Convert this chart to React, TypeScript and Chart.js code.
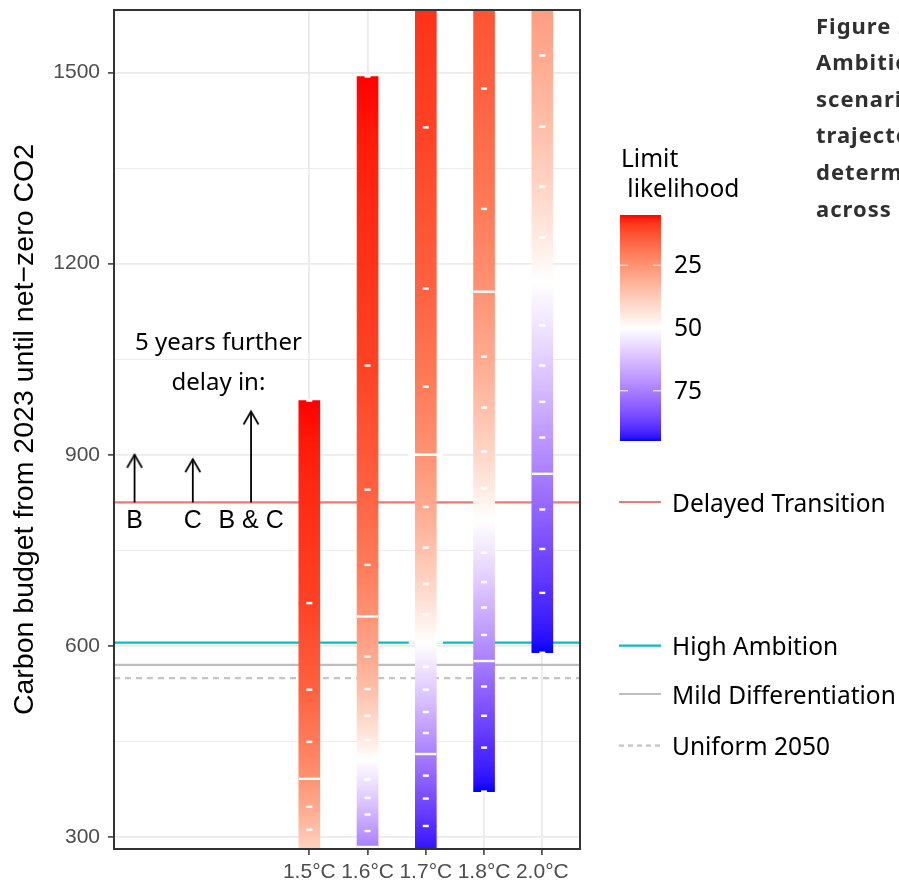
import React, { useEffect, useRef } from 'react';
import { Chart, registerables } from 'chart.js';

Chart.register(...registerables);

// ---------------- data ----------------
const TEMPERATURES = ['1.5°C', '1.6°C', '1.7°C', '1.8°C', '2.0°C'];
const LIKELIHOODS = [5, 10, 15, 20, 25, 30, 35, 40, 45, 50, 55, 60, 65, 70, 75, 80, 85, 90, 95];
// carbon budget (GtCO2) reached at each likelihood level, per temperature limit
const BUDGET_15C = [985, 667, 531, 449, 391, 347, 311, 276];
const BUDGET_16C = [1494, 1040, 845, 727, 646, 583, 532, 490, 452, 421, 390, 361, 335, 309, 284];
const BUDGET_17C = [1880, 1414, 1161, 1007, 900, 818, 754, 697, 649, 605, 567, 531, 496, 463, 430, 396, 360, 317, 264];
const BUDGET_18C = [2250, 1760, 1475, 1286, 1156, 1054, 974, 905, 847, 798, 746, 700, 660, 617, 576, 536, 490, 440, 371];
const BUDGET_20C = [2900, 2400, 2050, 1820, 1660, 1527, 1415, 1321, 1241, 1172, 1103, 1040, 983, 927, 870, 814, 752, 683, 589];
const BUDGETS_BY_TEMPERATURE = [BUDGET_15C, BUDGET_16C, BUDGET_17C, BUDGET_18C, BUDGET_20C];
const QUARTILE_LEVELS = [25, 75];
const MARKER_17C_BUDGETS = [900, 605];

const SCENARIO_NAMES = ['Delayed Transition', 'High Ambition', 'Mild Differentiation', 'Uniform 2050'];
const SCENARIO_BUDGETS = [825, 605, 570, 549];
const SCENARIO_COLORS = ['#F8766D', '#00BFC4', '#BEBEBE', '#C4C4C4'];
const SCENARIO_DASHED = [false, false, false, true];

const DELAY_LABELS = ['B', 'C', 'B & C'];
const DELAY_POSITIONS = [-3, -2, -1];
const DELAY_TOPS = [900, 893, 968];
const DELAY_BASE = 825;
const DELAY_LABEL_BASELINE = 785;
const NOTE_LINES = ['5 years further', 'delay in:'];
const NOTE_POSITION = -1.56;
const NOTE_BASELINES = [1064, 1002];

const Y_MAJOR_TICKS = [300, 600, 900, 1200, 1500];
const Y_MINOR_TICKS = [450, 750, 1050, 1350];
const Y_RANGE = [280.8, 1598.4];
const X_RANGE = [-3.353, 4.647];
const LEGEND_BREAKS = [25, 50, 75];
const CAPTION_LINES = ['Figure 2:', 'Ambition', 'scenarios', 'trajectory', 'determined', 'across the'];

// ---------------- styling helpers ----------------
const TICK_FONT = "'Liberation Sans', Arial, sans-serif";
const TEXT_FONT = "'Noto Sans', sans-serif";
const L_MIN = Math.min(...LIKELIHOODS);
const L_MAX = Math.max(...LIKELIHOODS);

function toLinear(c: number) {
  c /= 255;
  return c <= 0.04045 ? c / 12.92 : Math.pow((c + 0.055) / 1.055, 2.4);
}
function fromLinear(c: number) {
  const v = c <= 0.0031308 ? 12.92 * c : 1.055 * Math.pow(c, 1 / 2.4) - 0.055;
  return Math.round(Math.min(1, Math.max(0, v)) * 255);
}
function rgbToLab(r: number, g: number, b: number) {
  const R = toLinear(r), G = toLinear(g), B = toLinear(b);
  const X = (0.4124 * R + 0.3576 * G + 0.1805 * B) / 0.95047;
  const Y = 0.2126 * R + 0.7152 * G + 0.0722 * B;
  const Z = (0.0193 * R + 0.1192 * G + 0.9505 * B) / 1.08883;
  const f = (t: number) => (t > 0.008856 ? Math.cbrt(t) : 7.787 * t + 16 / 116);
  const fx = f(X), fy = f(Y), fz = f(Z);
  return [116 * fy - 16, 500 * (fx - fy), 200 * (fy - fz)];
}
function labToHex(lab: number[]) {
  const fy = (lab[0] + 16) / 116;
  const fx = fy + lab[1] / 500;
  const fz = fy - lab[2] / 200;
  const inv = (t: number) => (t * t * t > 0.008856 ? t * t * t : (t - 16 / 116) / 7.787);
  const X = inv(fx) * 0.95047, Y = inv(fy), Z = inv(fz) * 1.08883;
  const R = 3.2406 * X - 1.5372 * Y - 0.4986 * Z;
  const G = -0.9689 * X + 1.8758 * Y + 0.0415 * Z;
  const B = 0.0557 * X - 0.204 * Y + 1.057 * Z;
  const h = (v: number) => fromLinear(v).toString(16).padStart(2, '0');
  return '#' + h(R) + h(G) + h(B);
}
const LAB_LOW = rgbToLab(255, 0, 0);
const LAB_MID = rgbToLab(255, 255, 255);
const LAB_HIGH = rgbToLab(0, 0, 255);
function likelihoodColor(L: number) {
  const half = Math.max(50 - L_MIN, L_MAX - 50);
  const t = Math.min(1, Math.max(0, (L - 50) / (2 * half) + 0.5));
  let a = LAB_LOW, b = LAB_MID, s = t / 0.5;
  if (t > 0.5) {
    a = LAB_MID; b = LAB_HIGH; s = (t - 0.5) / 0.5;
  }
  return labToHex([0, 1, 2].map((k) => a[k] + (b[k] - a[k]) * s));
}

function makeArrowHead(): HTMLCanvasElement {
  const s = 40;
  const cv = document.createElement('canvas');
  cv.width = s; cv.height = s;
  const c = cv.getContext('2d')!;
  c.strokeStyle = '#000';
  c.lineWidth = 1.8;
  c.beginPath();
  c.moveTo(s / 2 - 7.5, s / 2 + 13);
  c.lineTo(s / 2, s / 2);
  c.lineTo(s / 2 + 7.5, s / 2 + 13);
  c.stroke();
  return cv;
}

// ---------------- plugins ----------------
const framePlugin = {
  id: 'frame',
  afterDatasetsDraw(chart: any) {
    const { ctx, chartArea: a } = chart;
    ctx.save();
    ctx.strokeStyle = '#333333';
    ctx.lineWidth = 2;
    ctx.strokeRect(a.left, a.top, a.right - a.left, a.bottom - a.top);
    ctx.restore();
  },
};

const annotationPlugin = {
  id: 'annotations',
  afterDatasetsDraw(chart: any) {
    const { ctx } = chart;
    const xs = chart.scales.x, ys = chart.scales.y;
    ctx.save();
    ctx.fillStyle = '#000';
    ctx.textAlign = 'center';
    ctx.textBaseline = 'alphabetic';
    ctx.font = `24px ${TEXT_FONT}`;
    NOTE_LINES.forEach((t, i) => ctx.fillText(t, xs.getPixelForValue(NOTE_POSITION), ys.getPixelForValue(NOTE_BASELINES[i])));
    ctx.font = `25px ${TICK_FONT}`;
    DELAY_LABELS.forEach((t, i) => ctx.fillText(t, xs.getPixelForValue(DELAY_POSITIONS[i]), ys.getPixelForValue(DELAY_LABEL_BASELINE)));
    ctx.restore();
  },
};

const legendPlugin = {
  id: 'sideLegend',
  afterDraw(chart: any) {
    const c = chart.ctx;
    c.save();
    // colour bar legend
    c.fillStyle = '#000';
    c.textAlign = 'left';
    c.textBaseline = 'alphabetic';
    c.font = `24.5px ${TEXT_FONT}`;
    c.fillText('Limit', 621, 167);
    c.fillText(' likelihood', 621, 197);
    const bx = 620, by = 215, bw = 41, bh = 226;
    const g = c.createLinearGradient(0, by, 0, by + bh);
    for (let k = 0; k <= 60; k++) g.addColorStop(k / 60, likelihoodColor(L_MIN + ((L_MAX - L_MIN) * k) / 60));
    c.fillStyle = g;
    c.fillRect(bx, by, bw, bh);
    c.strokeStyle = '#ffffff';
    c.lineWidth = 1;
    c.fillStyle = '#000';
    LEGEND_BREAKS.forEach((b) => {
      const y = by + ((b - L_MIN) / (L_MAX - L_MIN)) * bh;
      c.beginPath();
      c.moveTo(bx, y); c.lineTo(bx + 8, y);
      c.moveTo(bx + bw - 8, y); c.lineTo(bx + bw, y);
      c.stroke();
      c.fillText(String(b), 674, y + 8);
    });
    // line legend
    const itemY = [502, 645.7, 694, 745.7];
    SCENARIO_NAMES.forEach((name, i) => {
      const y = itemY[i];
      c.strokeStyle = SCENARIO_COLORS[i];
      c.lineWidth = 2.2;
      c.setLineDash(SCENARIO_DASHED[i] ? [5, 4] : []);
      c.beginPath();
      c.moveTo(619, y); c.lineTo(661, y);
      c.stroke();
      c.setLineDash([]);
      c.fillStyle = '#000';
      c.fillText(name, 672, y + 9.5);
    });
    // caption (clipped by canvas edge)
    c.fillStyle = '#303030';
    c.font = `bold 22px ${TEXT_FONT}`;
    try { (c as any).letterSpacing = '1px'; } catch (e) { /* ignore */ }
    CAPTION_LINES.forEach((t, i) => c.fillText(t, 816, 33.5 + i * 36.6));
    try { (c as any).letterSpacing = '0px'; } catch (e) { /* ignore */ }
    c.restore();
  },
};

// ---------------- component ----------------
export default function App() {
  const ref = useRef<HTMLCanvasElement>(null);

  useEffect(() => {
    document.body.style.margin = '0';
    const canvas = ref.current!;
    const arrowHead = makeArrowHead();

    const segments: any[] = [];
    const dashes: any[] = [];
    const quartiles: any[] = [];
    BUDGETS_BY_TEMPERATURE.forEach((arr, ti) => {
      arr.forEach((v, i) => {
        const p = { x: ti, y: v };
        if (QUARTILE_LEVELS.includes(LIKELIHOODS[i])) quartiles.push(p);
        else dashes.push(p);
        if (i < arr.length - 1) {
          segments.push({ x: ti, y: [arr[i + 1], v], l0: LIKELIHOODS[i], l1: LIKELIHOODS[i + 1] });
        }
      });
    });

    const datasets: any[] = [];
    SCENARIO_NAMES.forEach((name, i) => {
      datasets.push({
        type: 'line',
        label: name,
        data: [{ x: X_RANGE[0], y: SCENARIO_BUDGETS[i] }, { x: X_RANGE[1], y: SCENARIO_BUDGETS[i] }],
        borderColor: SCENARIO_COLORS[i],
        borderWidth: 2.2,
        borderDash: SCENARIO_DASHED[i] ? [6, 5] : [],
        pointRadius: 0,
        order: 10,
        clip: 0,
      });
    });
    DELAY_LABELS.forEach((lab, i) => {
      datasets.push({
        type: 'line',
        label: 'arrow ' + lab,
        data: [{ x: DELAY_POSITIONS[i], y: DELAY_BASE }, { x: DELAY_POSITIONS[i], y: DELAY_TOPS[i] }],
        borderColor: '#000',
        borderWidth: 1.8,
        pointRadius: 0,
        order: 9,
      });
    });
    datasets.push({
      type: 'scatter',
      label: 'arrow heads',
      data: DELAY_POSITIONS.map((x, i) => ({ x, y: DELAY_TOPS[i] })),
      pointStyle: arrowHead,
      pointRadius: 5,
      order: 8,
    });
    datasets.push({
      type: 'bar',
      label: 'budgets',
      data: segments,
      barThickness: 21,
      grouped: false,
      borderWidth: 0,
      order: 5,
      clip: 0,
      backgroundColor: (ctx: any) => {
        const raw = ctx.raw;
        if (!raw || !raw.y) return '#ff0000';
        const ys = ctx.chart.scales.y;
        const top = ys.getPixelForValue(raw.y[1]);
        const bot = ys.getPixelForValue(raw.y[0]);
        if (!isFinite(top) || !isFinite(bot) || top === bot) return likelihoodColor((raw.l0 + raw.l1) / 2);
        const g = ctx.chart.ctx.createLinearGradient(0, top, 0, bot);
        for (let k = 0; k <= 5; k++) g.addColorStop(k / 5, likelihoodColor(raw.l0 + ((raw.l1 - raw.l0) * k) / 5));
        return g;
      },
    });
    datasets.push({
      type: 'scatter',
      label: 'levels',
      data: dashes,
      pointStyle: 'line',
      pointRadius: 3,
      pointBorderColor: '#ffffff',
      pointBorderWidth: 2.4,
      order: 2,
      clip: 0,
    });
    datasets.push({
      type: 'scatter',
      label: 'quartiles',
      data: quartiles,
      pointStyle: 'line',
      pointRadius: 10.5,
      pointBorderColor: '#ffffff',
      pointBorderWidth: 2.4,
      order: 2,
      clip: 0,
    });
    datasets.push({
      type: 'scatter',
      label: '1.7 markers',
      data: MARKER_17C_BUDGETS.map((y) => ({ x: 2, y })),
      pointStyle: 'line',
      pointRadius: 17,
      pointBorderColor: '#ffffff',
      pointBorderWidth: 2.4,
      order: 1,
      clip: 0,
    });

    const chart = new Chart(canvas, {
      type: 'bar',
      data: { datasets },
      options: {
        animation: false,
        responsive: false,
        devicePixelRatio: 1,
        events: [],
        layout: { autoPadding: false, padding: { left: 0, top: 10, right: 319, bottom: 0 } },
        plugins: { legend: { display: false }, tooltip: { enabled: false } },
        scales: {
          x: {
            type: 'linear',
            min: X_RANGE[0],
            max: X_RANGE[1],
            bounds: 'data',
            offset: false,
            afterBuildTicks: (s: any) => {
              s.ticks = TEMPERATURES.map((_, i) => ({ value: i }));
            },
            afterFit: (s: any) => {
              s.height = 34;
              s.paddingLeft = 0;
              s.paddingRight = 0;
            },
            grid: {
              offset: false,
              color: '#EBEBEB',
              lineWidth: 1.8,
              drawTicks: true,
              tickLength: 6,
              tickColor: '#333333',
              tickWidth: 1.5,
            },
            border: { display: false },
            ticks: {
              autoSkip: false,
              maxRotation: 0,
              padding: 5,
              color: '#4D4D4D',
              font: { family: TICK_FONT, size: 21 },
              callback: (v: any) => TEMPERATURES[Math.round(Number(v))] ?? '',
            },
          },
          y: {
            type: 'linear',
            min: Y_RANGE[0],
            max: Y_RANGE[1],
            bounds: 'data',
            beginAtZero: false,
            afterBuildTicks: (s: any) => {
              s.ticks = [...Y_MAJOR_TICKS, ...Y_MINOR_TICKS].sort((a, b) => a - b).map((value) => ({ value }));
            },
            afterFit: (s: any) => {
              s.width = 114;
              s.paddingTop = 0;
              s.paddingBottom = 0;
            },
            grid: {
              color: '#EBEBEB',
              lineWidth: (ctx: any) => (Y_MAJOR_TICKS.includes(ctx.tick?.value) ? 1.8 : 0.9),
              drawTicks: true,
              tickLength: 6,
              tickColor: (ctx: any) => (Y_MAJOR_TICKS.includes(ctx.tick?.value) ? '#333333' : 'rgba(0,0,0,0)'),
              tickWidth: 1.5,
            },
            border: { display: false },
            ticks: {
              autoSkip: false,
              padding: 8,
              color: '#4D4D4D',
              font: { family: TICK_FONT, size: 21 },
              callback: (v: any) => (Y_MAJOR_TICKS.includes(Number(v)) ? String(v) : ''),
            },
            title: {
              display: true,
              text: 'Carbon budget from 2023 until net\u2212zero CO2',
              color: '#000',
              font: { family: TICK_FONT, size: 28.5, lineHeight: 1.2 },
              padding: { top: 8, bottom: 0 },
            },
          },
        },
      },
      plugins: [framePlugin, annotationPlugin, legendPlugin],
    } as any);

    return () => chart.destroy();
  }, []);

  return <canvas ref={ref} width={899} height={883} style={{ display: 'block', width: 899, height: 883 }} />;
}
